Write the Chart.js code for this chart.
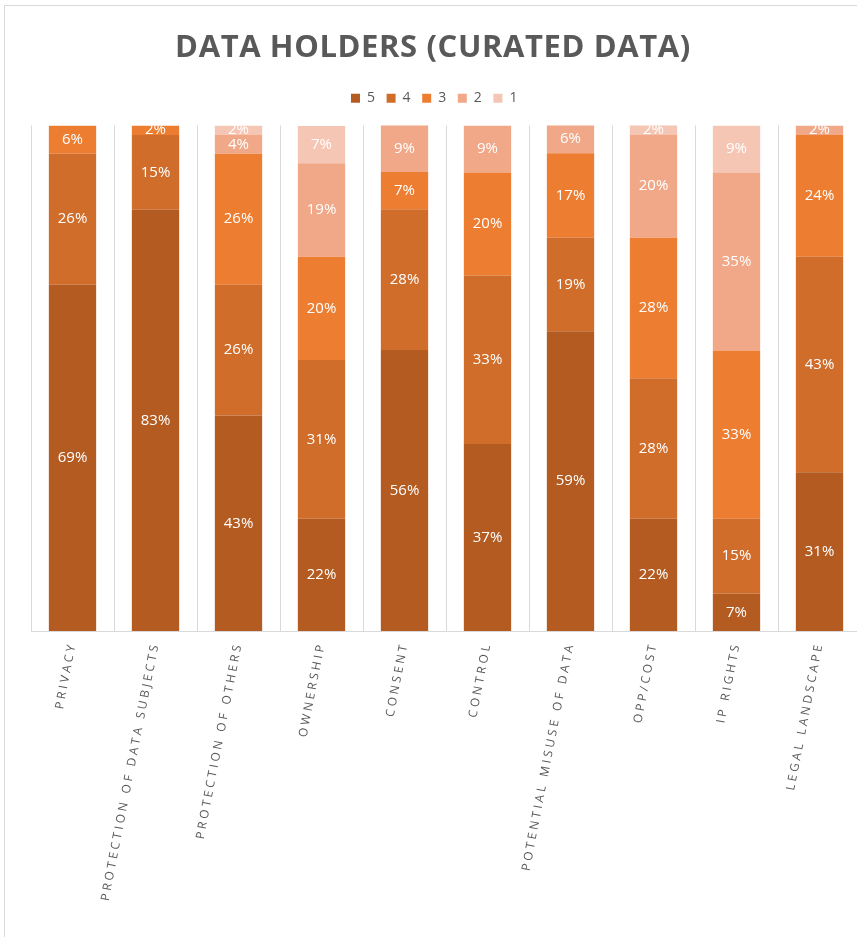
<!DOCTYPE html>
<html>
<head>
<meta charset="utf-8">
<script src="https://cdn.jsdelivr.net/npm/chart.js@4.4.1/dist/chart.umd.min.js"></script>
<style>
  html, body { margin: 0; padding: 0; background: #fff; overflow: hidden; }
  #frame {
    position: absolute; left: 4px; top: 5px;
    width: 900px; height: 1000px;
    border: 1px solid #d9d9d9;
  }
  #chart { display: block; }
</style>
</head>
<body>
<div id="frame">
  <canvas id="chart" width="856" height="940"></canvas>
</div>
<script>
const categories = [
    'PRIVACY', 'PROTECTION OF DATA SUBJECTS', 'PROTECTION OF OTHERS', 'OWNERSHIP', 'CONSENT',
    'CONTROL', 'POTENTIAL MISUSE OF DATA', 'OPP/COST', 'IP RIGHTS', 'LEGAL LANDSCAPE'
];

// share of answers per score, in percent
const score5 = [68.5, 83.3, 42.6, 22.2, 55.6, 37.0, 59.3, 22.2, 7.4, 31.4];
const score4 = [25.9, 14.8, 25.9, 31.4, 27.8, 33.3, 18.5, 27.8, 14.8, 42.6];
const score3 = [5.6, 1.9, 25.9, 20.4, 7.4, 20.4, 16.7, 27.8, 33.3, 24.1];
const score2 = [0, 0, 3.7, 18.5, 9.3, 9.3, 5.6, 20.4, 35.2, 1.9];
const score1 = [0, 0, 1.9, 7.4, 0, 0, 0, 1.9, 9.3, 0];

const scoreColors = ['#B35B21', '#D06D2B', '#ED7D31', '#F1A888', '#F6C6B4'];
const grey = '#595959';

const series = [
    { label: '5', data: score5 },
    { label: '4', data: score4 },
    { label: '3', data: score3 },
    { label: '2', data: score2 },
    { label: '1', data: score1 }
];

const spacing = {
    id: 'spacing',
    beforeDraw(chart) {
        chart.ctx.letterSpacing = '0.6px';
        const x = chart.scales.x;
        if (!x._spaced) {
            const draw = x.drawLabels;
            x.drawLabels = function (area) {
                this.ctx.letterSpacing = '3px';
                draw.call(this, area);
                this.ctx.letterSpacing = '0.6px';
            };
            x._spaced = true;
        }
    },
    beforeDatasetsDraw(chart) {
        chart.ctx.letterSpacing = '0px';
    }
};

const barLabels = {
    id: 'barLabels',
    afterDatasetsDraw(chart) {
        const { ctx, chartArea } = chart;
        ctx.save();
        ctx.beginPath();
        ctx.rect(chartArea.left, chartArea.top, chartArea.width, chartArea.height);
        ctx.clip();
        ctx.letterSpacing = '0px';
        ctx.font = '15px "Open Sans"';
        ctx.fillStyle = '#ffffff';
        ctx.textAlign = 'center';
        ctx.textBaseline = 'middle';
        chart.data.datasets.forEach((ds, i) => {
            chart.getDatasetMeta(i).data.forEach((bar, j) => {
                const v = ds.data[j];
                if (!v) return;
                const { x, y, base } = bar.getProps(['x', 'y', 'base'], true);
                ctx.fillText(Math.round(v) + '%', x, (y + base) / 2);
            });
        });
        ctx.restore();
    }
};

new Chart(document.getElementById('chart'), {
    type: 'bar',
    data: {
        labels: categories,
        datasets: series.map((s, i) => ({
            label: s.label,
            data: s.data,
            backgroundColor: scoreColors[i],
            borderWidth: 0,
            barPercentage: 0.57,
            categoryPercentage: 1
        }))
    },
    options: {
        responsive: false,
        animation: false,
        layout: { padding: 0 },
        plugins: {
            title: {
                display: true,
                text: 'DATA HOLDERS (CURATED DATA)',
                color: grey,
                font: { family: '"Open Sans"', size: 31, weight: 'bold' },
                padding: { top: 24, bottom: 13 }
            },
            subtitle: {
                display: true,
                text: '',
                weight: 500,
                font: { size: 1 },
                padding: { top: 0, bottom: 9 }
            },
            legend: {
                position: 'top',
                labels: {
                    color: grey,
                    boxWidth: 9,
                    boxHeight: 9,
                    padding: 11,
                    font: { family: '"Open Sans"', size: 14 }
                }
            },
            tooltip: { enabled: false }
        },
        scales: {
            x: {
                stacked: true,
                grid: {
                    color: (c) => c.type === 'tick' ? '#d9d9d9' : 'rgba(0,0,0,0)',
                    drawTicks: false,
                    offset: true
                },
                border: { color: '#d9d9d9' },
                ticks: {
                    color: grey,
                    font: { family: '"Open Sans"', size: 12 },
                    minRotation: 79,
                    maxRotation: 79,
                    autoSkip: false,
                    padding: 10
                },
                afterFit(scale) { scale.height = 315; }
            },
            y: {
                stacked: true,
                min: 0,
                max: 100,
                grid: { display: false },
                border: { display: false },
                ticks: { display: false },
                afterFit(scale) { scale.width = 26; }
            }
        }
    },
    plugins: [spacing, barLabels]
});
</script>
</body>
</html>
